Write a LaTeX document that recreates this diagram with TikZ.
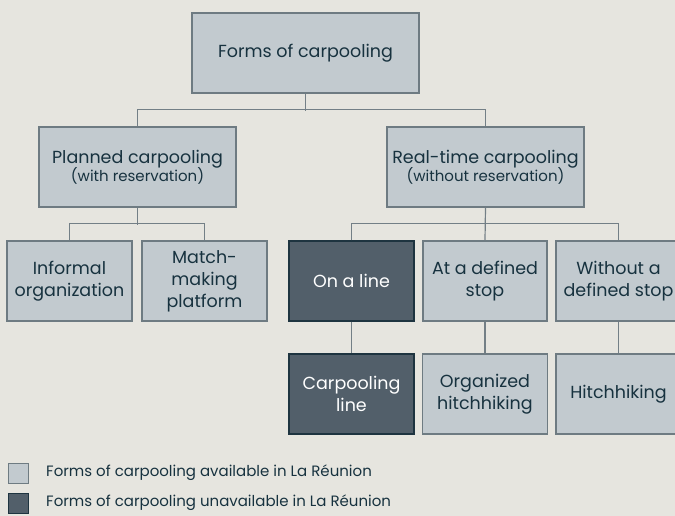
\documentclass[tikz,border=0pt]{standalone}
\usepackage{fontspec}
\setmainfont{Poppins}
\definecolor{bg}{HTML}{E6E5DF}
\definecolor{lightfill}{HTML}{C2CACF}
\definecolor{lightline}{HTML}{6E7B82}
\definecolor{darkfill}{HTML}{525F6A}
\definecolor{darkline}{HTML}{1E3440}
\definecolor{txt}{HTML}{17323F}
\definecolor{conn}{HTML}{737F86}
\newcommand{\subt}[1]{{\fontsize{15}{15}\selectfont #1}}
\begin{document}
\begin{tikzpicture}[x=1pt,y=-1pt,
  box/.style={draw=lightline,fill=lightfill,line width=1.2pt,text=txt,align=center,
    inner sep=0pt,minimum height=80pt,font=\fontsize{17.5}{22}\selectfont},
  darkbox/.style={box,draw=darkline,fill=darkfill,text=white},
  conline/.style={draw=conn,line width=1.2pt},
  legtext/.style={anchor=west,text=txt,inner sep=0pt,font=\fontsize{15}{17}\selectfont}]
\useasboundingbox[fill=bg] (0,0) rectangle (675,516);
\node[box,minimum width=227pt] (top) at (305.5,53) {Forms of carpooling};
\node[box,minimum width=197pt] (plan) at (137.5,167) {Planned carpooling\\[-4pt]\subt{(with reservation)}};
\node[box,minimum width=197pt] (real) at (485.5,167) {Real-time carpooling\\[-4pt]\subt{(without reservation)}};
\node[box,minimum width=125pt] (inf) at (69.5,281) {Informal\\organization};
\node[box,minimum width=125pt] (match) at (204.5,281) {Match-\\making\\platform};
\node[darkbox,minimum width=125pt] (line) at (351.5,281) {On a line};
\node[box,minimum width=124pt] (stop) at (485,281) {At a defined\\stop};
\node[box,minimum width=125pt] (nostop) at (618.5,281) {Without a\\defined stop};
\node[darkbox,minimum width=125pt] (cline) at (351.5,394) {Carpooling\\line};
\node[box,minimum width=125pt] (org) at (485,394) {Organized\\hitchhiking};
\node[box,minimum width=125pt] (hitch) at (618.5,394) {Hitchhiking};
% connectors
\draw[conline] (top.south) -- ++(0,17);
\draw[conline] (plan.north) -- ++(0,-17) -| (real.north);
\draw[conline] (inf.north) -- ++(0,-17) -| (match.north);
\draw[conline] (plan.south) -- ++(0,17);
\draw[conline] (line.north) -- ++(0,-17) -| (nostop.north);
\draw[conline] (real.south) -- (stop.north);
\draw[conline] (line.south) -- (cline.north);
\draw[conline] (stop.south) -- (org.north);
\draw[conline] (nostop.south) -- (hitch.north);
% legend
\node[box,minimum width=20pt,minimum height=20pt,line width=1pt] (lg1) at (18,473) {};
\node[darkbox,minimum width=20pt,minimum height=20pt,line width=1pt] (lg2) at (18,503) {};
\node[legtext] (lt1) at (46,473) {Forms of carpooling available in La Réunion};
\node[legtext] (lt2) at (46,503) {Forms of carpooling unavailable in La Réunion};
\end{tikzpicture}
\end{document}
